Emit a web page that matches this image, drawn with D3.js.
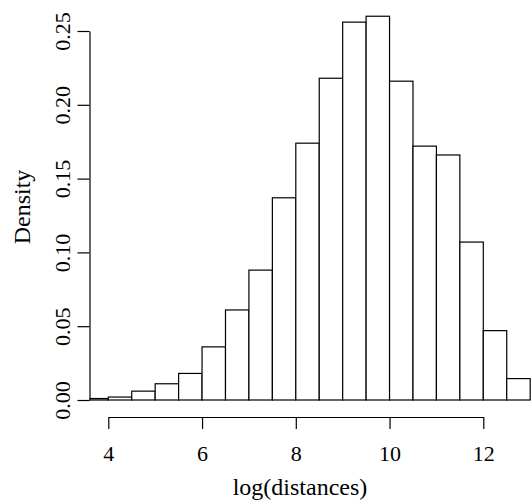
<!DOCTYPE html>
<html>
<head>
<meta charset="utf-8">
<script src="https://cdn.jsdelivr.net/npm/d3@7"></script>
<style>
  html, body { margin: 0; padding: 0; background: #fff; }
  svg { display: block; }
</style>
</head>
<body>
<svg id="chart" width="531" height="501"></svg>
<script>
// ---- data ----
const binStarts = [3.5, 4, 4.5, 5, 5.5, 6, 6.5, 7, 7.5, 8, 8.5, 9, 9.5, 10, 10.5, 11, 11.5, 12, 12.5];
const binEnds   = [4, 4.5, 5, 5.5, 6, 6.5, 7, 7.5, 8, 8.5, 9, 9.5, 10, 10.5, 11, 11.5, 12, 12.5, 13];
const density   = [0.001, 0.002, 0.006, 0.011, 0.018, 0.036, 0.061, 0.088, 0.137, 0.174,
                   0.218, 0.256, 0.260, 0.216, 0.172, 0.166, 0.107, 0.047, 0.0145];
const xTicks = [4, 6, 8, 10, 12];
const yTicks = [0, 0.05, 0.10, 0.15, 0.20, 0.25];
const xLabel = "log(distances)";
const yLabel = "Density";

// ---- layout ----
const svg = d3.select("#chart");
const FONT = "'Liberation Serif', 'Times New Roman', serif";
const x = d3.scaleLinear().domain([4, 12]).range([108.3, 483.3]);
const y = d3.scaleLinear().domain([0, 0.25]).range([400, 31]);
const plotLeft = 89.5;

svg.append("defs").append("clipPath").attr("id", "plotclip")
  .append("rect").attr("x", plotLeft).attr("y", 0).attr("width", 600).attr("height", 401);

const bars = binStarts.map((s, i) => ({ x0: s, x1: binEnds[i], d: density[i] }));

svg.append("g").attr("clip-path", "url(#plotclip)")
  .selectAll("rect").data(bars).join("rect")
  .attr("x", d => x(d.x0))
  .attr("y", d => y(d.d))
  .attr("width", d => x(d.x1) - x(d.x0))
  .attr("height", d => y(0) - y(d.d))
  .attr("fill", "#fff")
  .attr("stroke", "#000")
  .attr("stroke-width", 1.2);

// y axis
const gy = svg.append("g").attr("transform", `translate(${plotLeft},0)`)
  .call(d3.axisLeft(y).tickValues(yTicks).tickFormat(d3.format(".2f"))
        .tickSizeInner(12).tickSizeOuter(0).tickPadding(0));
gy.attr("font-family", FONT).attr("font-size", 22);
gy.select(".domain").attr("stroke", "#000").attr("stroke-width", 1.2);
gy.selectAll(".tick line").attr("stroke", "#000").attr("stroke-width", 1.2);
gy.selectAll(".tick text")
  .attr("transform", "rotate(-90)")
  .attr("x", 0).attr("y", -27).attr("dy", "0.35em")
  .attr("text-anchor", "middle").attr("fill", "#000");

// x axis
const gx = svg.append("g").attr("transform", "translate(0,417)")
  .call(d3.axisBottom(x).tickValues(xTicks).tickFormat(d3.format("d"))
        .tickSizeInner(12).tickSizeOuter(0).tickPadding(0));
gx.attr("font-family", FONT).attr("font-size", 22);
gx.select(".domain").attr("stroke", "#000").attr("stroke-width", 1.2);
gx.selectAll(".tick line").attr("stroke", "#000").attr("stroke-width", 1.2);
gx.selectAll(".tick text").attr("y", 36).attr("dy", "0.35em").attr("fill", "#000");

// axis titles
svg.append("text")
  .attr("x", 300).attr("y", 487).attr("dy", "0.35em")
  .attr("text-anchor", "middle")
  .attr("font-family", FONT).attr("font-size", 24)
  .text(xLabel);

svg.append("text")
  .attr("transform", "translate(22,207) rotate(-90)")
  .attr("dy", "0.35em")
  .attr("text-anchor", "middle")
  .attr("font-family", FONT).attr("font-size", 24)
  .text(yLabel);
</script>
</body>
</html>
